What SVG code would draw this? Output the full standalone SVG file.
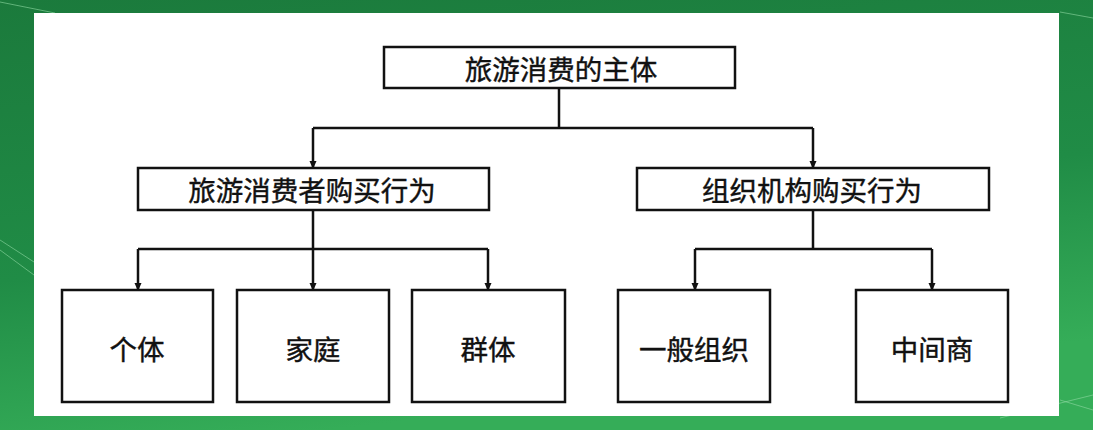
<svg xmlns="http://www.w3.org/2000/svg" width="1093" height="430" viewBox="0 0 1093 430">
<defs>
<linearGradient id="bg" x1="0" y1="0" x2="0.3" y2="1">
<stop offset="0" stop-color="#1b7a3c"/>
<stop offset="0.6" stop-color="#208c46"/>
<stop offset="1" stop-color="#35ad58"/>
</linearGradient>
<marker id="ah" markerWidth="8" markerHeight="8" refX="7" refY="4" orient="auto" markerUnits="userSpaceOnUse">
<path d="M0,0.5 L8,4 L0,7.5 Z" fill="#111"/>
</marker>
<style>
.box{fill:#fff;stroke:#111;stroke-width:2.5}
.t{font-family:"Noto Sans CJK SC","Noto Sans",sans-serif;font-size:27.5px;font-weight:400;fill:#111;stroke:#111;stroke-width:0.4;text-anchor:middle;dominant-baseline:central}
.c{fill:none;stroke:#111;stroke-width:2.5}
.bgl{stroke:#8fd9a4;stroke-width:1;opacity:0.6;fill:none}
</style>
</defs>
<rect width="1093" height="430" fill="url(#bg)"/>
<path class="bgl" d="M0,2 L55,13 M1060,400 L1093,410 M1000,418 L1093,395 M1060,12 L1093,18 M0,240 L34,262 M0,250 L34,275"/>
<rect x="34" y="13" width="1025" height="403" fill="#fff"/>
<g id="connectors">
<path class="c" d="M559,88 V128 M313,128 H813"/>
<path class="c" d="M313,128 V168" marker-end="url(#ah)"/>
<path class="c" d="M813,128 V168" marker-end="url(#ah)"/>
<path class="c" d="M313,210 V249 M138,249 H488 M813,210 V249 M695,249 H932"/>
<path class="c" d="M138,249 V290" marker-end="url(#ah)"/>
<path class="c" d="M313,249 V290" marker-end="url(#ah)"/>
<path class="c" d="M488,249 V290" marker-end="url(#ah)"/>
<path class="c" d="M695,249 V290" marker-end="url(#ah)"/>
<path class="c" d="M932,249 V290" marker-end="url(#ah)"/>
</g>
<g id="root"><rect class="box" x="384" y="47" width="351" height="41"/><text class="t" x="561" y="68">旅游消费的主体</text></g>
<g id="consumer"><rect class="box" x="138" y="168" width="351" height="42"/><text class="t" x="312" y="189">旅游消费者购买行为</text></g>
<g id="org"><rect class="box" x="637" y="168" width="352" height="42"/><text class="t" x="812" y="189">组织机构购买行为</text></g>
<g id="individual"><rect class="box" x="62" y="290" width="151" height="112"/><text class="t" x="137" y="348">个体</text></g>
<g id="family"><rect class="box" x="237" y="290" width="152" height="112"/><text class="t" x="313" y="348">家庭</text></g>
<g id="group"><rect class="box" x="412" y="290" width="153" height="112"/><text class="t" x="488" y="348">群体</text></g>
<g id="general"><rect class="box" x="618" y="290" width="152" height="112"/><text class="t" x="694" y="348">一般组织</text></g>
<g id="middleman"><rect class="box" x="856" y="290" width="152" height="112"/><text class="t" x="932" y="348">中间商</text></g>
</svg>
